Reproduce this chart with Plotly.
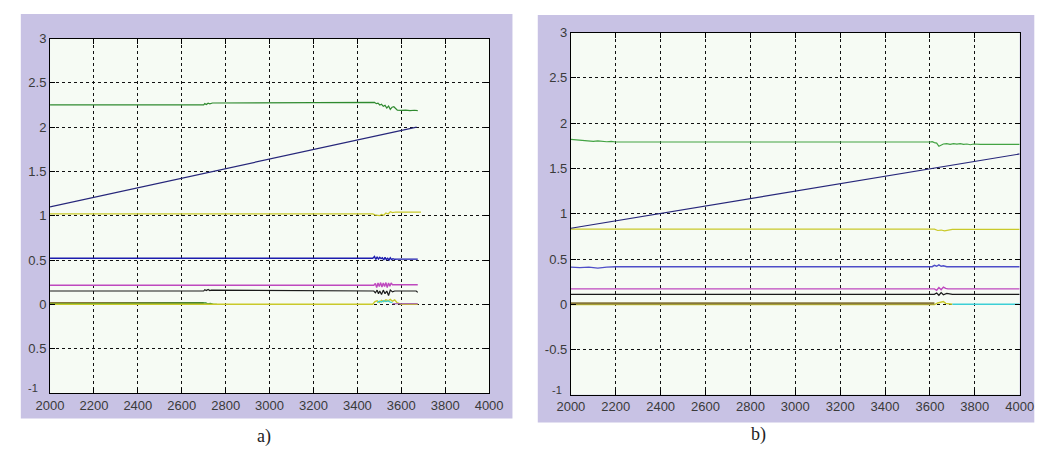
import plotly.graph_objects as go

# ---------------- panel a) ----------------
a_green_x = [2000, 2700, 2705, 2712, 2720, 2728, 2740, 3470, 3478, 3486, 3494, 3502, 3510, 3518,
             3526, 3534, 3542, 3550, 3558, 3566, 3574, 3582, 3600, 3620, 3640, 3660, 3675]
a_green_y = [2.25, 2.25, 2.265, 2.255, 2.27, 2.262, 2.272, 2.272, 2.28, 2.265, 2.27, 2.25, 2.258, 2.235,
             2.245, 2.215, 2.238, 2.2, 2.225, 2.23, 2.205, 2.19, 2.188, 2.192, 2.185, 2.19, 2.185]

a_ramp_x = [2000, 3670]
a_ramp_y = [1.10, 2.00]

a_yellow_x = [2000, 3470, 3480, 3490, 3500, 3510, 3520, 3530, 3540, 3550, 3560, 3575, 3600, 3690]
a_yellow_y = [1.02, 1.02, 1.01, 1.005, 1.0, 1.015, 1.005, 1.03, 1.02, 1.045, 1.035, 1.042, 1.04, 1.04]

a_blue_x = [2000, 3470, 3478, 3484, 3490, 3496, 3502, 3508, 3514, 3520, 3526, 3532, 3538, 3544,
            3550, 3556, 3562, 3570, 3580, 3675]
a_blue_y = [0.52, 0.52, 0.54, 0.505, 0.535, 0.51, 0.53, 0.515, 0.525, 0.5, 0.53, 0.505, 0.52, 0.5,
            0.525, 0.505, 0.515, 0.508, 0.51, 0.51]

a_magenta_x = [2000, 3475, 3482, 3488, 3494, 3500, 3506, 3512, 3518, 3524, 3530, 3536, 3542, 3548,
               3554, 3560, 3570, 3675]
a_magenta_y = [0.215, 0.215, 0.235, 0.19, 0.24, 0.2, 0.245, 0.195, 0.24, 0.2, 0.245, 0.19, 0.24, 0.205,
               0.24, 0.22, 0.22, 0.22]

a_black_x = [2000, 2700, 2705, 2712, 2720, 2728, 2735, 3475, 3482, 3490, 3496, 3502, 3510, 3518,
             3526, 3534, 3542, 3550, 3560, 3570, 3668, 3675]
a_black_y = [0.15, 0.15, 0.165, 0.155, 0.168, 0.155, 0.16, 0.15, 0.13, 0.16, 0.12, 0.15, 0.11, 0.16,
             0.12, 0.15, 0.1, 0.16, 0.14, 0.15, 0.15, 0.135]

a_brown_x = [2000, 2700]
a_brown_y = [0.012, 0.012]

a_green0_x = [2000, 2700, 2710, 2720, 2730, 2745, 2760]
a_green0_y = [0.006, 0.008, 0.015, 0.004, 0.01, 0.0, 0.0]

a_yellow0_x = [2000, 3470, 3480, 3490, 3500, 3510, 3520, 3530, 3540, 3550, 3560, 3570, 3580, 3590, 3600, 3675]
a_yellow0_y = [0.0, 0.0, 0.03, 0.04, 0.02, 0.045, 0.03, 0.05, 0.04, 0.055, 0.035, 0.05, 0.02, 0.01, 0.0, 0.0]

a_cyan0_x = [3490, 3500, 3510, 3520, 3530, 3540, 3550, 3560]
a_cyan0_y = [0.02, 0.035, 0.025, 0.04, 0.03, 0.038, 0.025, 0.02]

a_purple0_x = [3560, 3675]
a_purple0_y = [0.006, 0.006]

# ---------------- panel b) ----------------
b_green_x = [2000, 2020, 2040, 2060, 2080, 2100, 2120, 2140, 2160, 2180, 2200, 3600, 3610, 3620,
             3630, 3640, 3650, 3660, 3675, 3690, 3705, 3720, 3735, 3750, 3765, 3780, 3795, 3810, 3825, 4000]
b_green_y = [1.82, 1.815, 1.81, 1.812, 1.805, 1.8, 1.805, 1.798, 1.795, 1.798, 1.792, 1.792, 1.795, 1.785,
             1.78, 1.745, 1.755, 1.77, 1.775, 1.765, 1.775, 1.768, 1.775, 1.765, 1.77, 1.762, 1.77, 1.765, 1.765, 1.765]

b_ramp_x = [2000, 4000]
b_ramp_y = [0.84, 1.66]

b_yellow_x = [2000, 3620, 3635, 3650, 3665, 3680, 3700, 4000]
b_yellow_y = [0.83, 0.83, 0.815, 0.82, 0.81, 0.82, 0.828, 0.828]

b_blue_x = [2000, 2040, 2080, 2120, 2160, 2200, 3610, 3620, 3630, 3640, 3650, 3660, 3675, 4000]
b_blue_y = [0.41, 0.405, 0.41, 0.4, 0.41, 0.415, 0.415, 0.43, 0.42, 0.435, 0.42, 0.425, 0.415, 0.415]

b_magenta_x = [2000, 3620, 3630, 3640, 3650, 3660, 3670, 3680, 4000]
b_magenta_y = [0.17, 0.17, 0.155, 0.185, 0.16, 0.19, 0.175, 0.17, 0.17]

b_black_x = [2000, 3620, 3630, 3640, 3650, 3660, 3675, 3690, 3700, 4000]
b_black_y = [0.11, 0.11, 0.125, 0.1, 0.13, 0.105, 0.12, 0.11, 0.11, 0.11]

b_brown_x = [2000, 3620]
b_brown_y = [0.01, 0.01]

b_yellow0_x = [2000, 3620, 3635, 3650, 3660, 3670, 3685, 3700]
b_yellow0_y = [-0.003, -0.003, 0.015, 0.02, 0.03, 0.01, 0.005, 0.0]

b_cyan0_x = [3700, 4000]
b_cyan0_y = [0.0, 0.0]

# ---------------- tick labels ----------------
x_ticks = [2000, 2200, 2400, 2600, 2800, 3000, 3200, 3400, 3600, 3800, 4000]
y_ticks = [3, 2.5, 2, 1.5, 1, 0.5, 0, -0.5, -1]
# the -1 label is placed separately, tucked above the 2000 label
a_y_text = ["3", "2.5", "2", "1.5", "1", "0.5", "0", "0.5", ""]
b_y_text = ["3", "2.5", "2", "1.5", "1", "0.5", "0", "-0.5", ""]
bottom_label = "-1"

GREEN = "#2F8A2F"
GREEN_B = "#43A343"
RAMP = "#26267A"
YELLOW = "#C9C92A"
BLUE = "#1C1CAE"
BLUE_B = "#4E4EC8"
MAGENTA = "#BE48BE"
BLACK = "#1A1A1A"
BROWN = "#86763A"
CYAN = "#3CCFD6"
LAVENDER = "#C8C2E4"
PANEL_BG = "#F6FBF4"

W, H = 1059, 450

fig = go.Figure()


def add_line(x, y, color, axis, width=1.2):
    fig.add_trace(go.Scatter(x=x, y=y, mode="lines", line=dict(color=color, width=width),
                             xaxis="x" + axis, yaxis="y" + axis, showlegend=False,
                             hoverinfo="skip"))


# panel a) traces
add_line(a_brown_x, a_brown_y, BROWN, "", 2.4)
add_line(a_green0_x, a_green0_y, GREEN, "")
add_line(a_yellow0_x, a_yellow0_y, YELLOW, "", 1.4)
add_line(a_cyan0_x, a_cyan0_y, CYAN, "")
add_line(a_purple0_x, a_purple0_y, "#9A4AB0", "")
add_line(a_black_x, a_black_y, BLACK, "")
add_line(a_magenta_x, a_magenta_y, MAGENTA, "", 1.4)
add_line(a_blue_x, a_blue_y, BLUE, "", 1.4)
add_line(a_yellow_x, a_yellow_y, YELLOW, "")
add_line(a_ramp_x, a_ramp_y, RAMP, "")
add_line(a_green_x, a_green_y, GREEN, "")

# panel b) traces
add_line(b_yellow0_x, b_yellow0_y, YELLOW, "2", 1.4)
add_line(b_brown_x, b_brown_y, BROWN, "2", 2.4)
add_line(b_cyan0_x, b_cyan0_y, CYAN, "2", 1.4)
add_line(b_black_x, b_black_y, BLACK, "2")
add_line(b_magenta_x, b_magenta_y, MAGENTA, "2", 1.4)
add_line(b_blue_x, b_blue_y, BLUE_B, "2", 1.4)
add_line(b_yellow_x, b_yellow_y, YELLOW, "2")
add_line(b_ramp_x, b_ramp_y, RAMP, "2")
add_line(b_green_x, b_green_y, GREEN_B, "2")

tick_font = dict(family="Liberation Sans, Arial, sans-serif", size=13, color="#3a3a3a")


def x_axis(domain, anchor):
    return dict(domain=domain, anchor=anchor, range=[2000, 4000], tickmode="array",
                tickvals=x_ticks, ticktext=[str(v) for v in x_ticks],
                showgrid=True, gridcolor="#111111", gridwidth=1, griddash="3px,3px",
                showline=True, linecolor="#000000", linewidth=1, mirror="ticks",
                ticks="inside", ticklen=5, tickcolor="#000000", tickfont=tick_font,
                zeroline=False, fixedrange=True)


def y_axis(domain, anchor, text):
    return dict(domain=domain, anchor=anchor, range=[-1, 3], tickmode="array",
                tickvals=y_ticks, ticktext=text,
                showgrid=True, gridcolor="#111111", gridwidth=1, griddash="3px,3px",
                showline=True, linecolor="#000000", linewidth=1, mirror="ticks",
                ticks="inside", ticklen=5, tickcolor="#000000", tickfont=tick_font,
                zeroline=False, fixedrange=True)


# plot-area boxes in pixels (left, top, right, bottom)
a_box = (37, 32, 488, 392)
b_box = (572, 26, 1033, 394)


def dom(box):
    l, t, r, b = box
    return [l / W, r / W], [1 - b / H, 1 - t / H]


a_xd, a_yd = dom(a_box)
b_xd, b_yd = dom(b_box)

shapes = []
# lavender figure panels
for (l, t, r, b) in [(7, 7, 512, 418), (538, 8, 1048, 422)]:
    shapes.append(dict(type="rect", xref="paper", yref="paper", layer="below",
                       x0=l / W, x1=r / W, y0=1 - b / H, y1=1 - t / H,
                       fillcolor=LAVENDER, line=dict(width=0)))
# light axes backgrounds
for (l, t, r, b) in [a_box, b_box]:
    shapes.append(dict(type="rect", xref="paper", yref="paper", layer="below",
                       x0=l / W, x1=r / W, y0=1 - b / H, y1=1 - t / H,
                       fillcolor=PANEL_BG, line=dict(width=0)))

caption_font = dict(family="Liberation Serif, Times New Roman, serif", size=18, color="#222222")
small_font = dict(family="Liberation Sans, Arial, sans-serif", size=11, color="#3a3a3a")
annotations = [
    dict(text="a)", x=257 / W, y=1 - 436 / H, xref="paper", yref="paper",
         showarrow=False, font=caption_font, xanchor="center", yanchor="middle"),
    dict(text="b)", x=765 / W, y=1 - 434 / H, xref="paper", yref="paper",
         showarrow=False, font=caption_font, xanchor="center", yanchor="middle"),
    dict(text=bottom_label, x=(a_box[0] - 10) / W, y=1 - (a_box[3] - 5) / H, xref="paper", yref="paper",
         showarrow=False, font=small_font, xanchor="right", yanchor="middle"),
    dict(text=bottom_label, x=(b_box[0] - 7) / W, y=1 - (b_box[3] - 5) / H, xref="paper", yref="paper",
         showarrow=False, font=small_font, xanchor="right", yanchor="middle"),
]

fig.update_layout(
    width=W, height=H,
    margin=dict(l=0, r=0, t=0, b=0),
    paper_bgcolor="#FFFFFF",
    plot_bgcolor="rgba(0,0,0,0)",
    xaxis=x_axis(a_xd, "y"),
    yaxis=y_axis(a_yd, "x", a_y_text),
    xaxis2=x_axis(b_xd, "y2"),
    yaxis2=y_axis(b_yd, "x2", b_y_text),
    shapes=shapes,
    annotations=annotations,
    showlegend=False,
)

fig.write_html("out.html")
